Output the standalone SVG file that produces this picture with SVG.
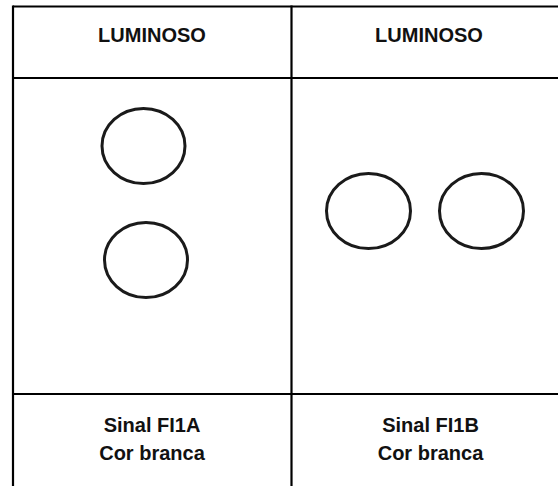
<svg xmlns="http://www.w3.org/2000/svg" width="558" height="486" viewBox="0 0 558 486">
  <style>
    .grid { stroke: #000; stroke-width: 2.2; fill: none; }
    .lamp { fill: none; stroke: #1a1a1a; stroke-width: 3; }
    .label { font-family: "Liberation Sans", Arial, sans-serif; font-weight: bold; font-size: 20px; fill: #111; text-anchor: middle; }
  </style>
  <rect width="558" height="486" fill="#fff"/>

  <!-- table frame -->
  <g id="table">
    <line class="grid" x1="13" y1="6.5" x2="558" y2="6.5"/>
    <line class="grid" x1="13" y1="78" x2="558" y2="78"/>
    <line class="grid" x1="13" y1="394" x2="558" y2="394"/>
    <line class="grid" x1="13" y1="5.4" x2="13" y2="486"/>
    <line class="grid" x1="291.5" y1="5.4" x2="291.5" y2="486"/>
  </g>

  <!-- column A: vertical pair -->
  <g id="signal-fi1a">
    <text class="label" x="152" y="42">LUMINOSO</text>
    <ellipse class="lamp" cx="143.5" cy="146" rx="41.5" ry="37.5"/>
    <ellipse class="lamp" cx="146" cy="260" rx="41.5" ry="37.5"/>
    <text class="label" x="152" y="431.5">Sinal FI1A</text>
    <text class="label" x="152" y="459.5">Cor branca</text>
  </g>

  <!-- column B: horizontal pair -->
  <g id="signal-fi1b">
    <text class="label" x="429" y="42">LUMINOSO</text>
    <ellipse class="lamp" cx="368.5" cy="211" rx="42" ry="37.5"/>
    <ellipse class="lamp" cx="481.5" cy="211" rx="42" ry="37.5"/>
    <text class="label" x="430.5" y="431.5">Sinal FI1B</text>
    <text class="label" x="430.5" y="459.5">Cor branca</text>
  </g>
</svg>
